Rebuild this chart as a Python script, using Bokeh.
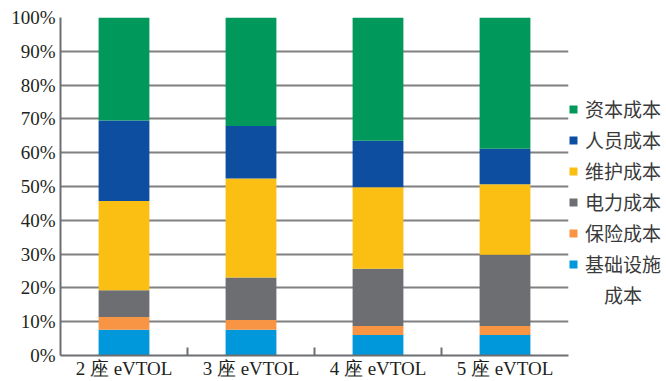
from bokeh.plotting import figure
from bokeh.models import FixedTicker, Legend, LegendItem, ColumnDataSource, Range1d
from bokeh.embed import file_html
from bokeh.resources import INLINE

categories = ["2 座 eVTOL", "3 座 eVTOL", "4 座 eVTOL", "5 座 eVTOL"]
infra = [7.6, 7.6, 6.1, 6.1]          # 基础设施成本
insurance = [3.8, 2.9, 2.6, 2.6]      # 保险成本
power = [7.9, 12.6, 17.0, 21.1]       # 电力成本
maintenance = [26.4, 29.3, 24.1, 20.9]  # 维护成本
personnel = [23.8, 15.5, 13.7, 10.5]  # 人员成本
capital = [30.5, 32.1, 36.5, 38.8]    # 资本成本

series_keys = ["infra", "insurance", "power", "maintenance", "personnel", "capital"]
series_labels = ["基础设施成本", "保险成本", "电力成本", "维护成本", "人员成本", "资本成本"]
colors = ["#0097DB", "#F79545", "#6D6E71", "#FBBE13", "#0D4EA1", "#00985B"]
y_ticks = [0, 10, 20, 30, 40, 50, 60, 70, 80, 90, 100]

xpos = [i + 0.5 for i in range(len(categories))]
source = ColumnDataSource(dict(x=xpos, infra=infra, insurance=insurance, power=power,
                               maintenance=maintenance, personnel=personnel, capital=capital))

p = figure(frame_width=508, height=381, output_backend="svg", toolbar_location=None,
           x_range=Range1d(0, len(categories)), y_range=Range1d(0, 100),
           min_border_left=60, min_border_right=0, min_border_top=17, min_border_bottom=10)
p.outline_line_color = None
p.background_fill_color = "white"
p.border_fill_color = "white"

renderers = p.vbar_stack(series_keys, x="x", width=0.40, color=colors, source=source, line_color=None)

# axes
serif = "Liberation Serif"
p.xaxis.ticker = FixedTicker(ticks=xpos, minor_ticks=[1, 2, 3])
p.xaxis.major_label_overrides = {x: c for x, c in zip(xpos, categories)}
p.xaxis.major_tick_in = 0
p.xaxis.major_tick_out = 0
p.xaxis.minor_tick_in = 8
p.xaxis.minor_tick_out = 0
p.xaxis.minor_tick_line_color = "#6D6E71"
p.xaxis.minor_tick_line_width = 2
p.xaxis.axis_line_color = "#6D6E71"
p.xaxis.axis_line_width = 2
p.xaxis.major_label_text_font = serif
p.xaxis.major_label_text_font_size = "19px"
p.xaxis.major_label_text_color = "#231F20"
p.xaxis.major_label_standoff = 2

p.yaxis.ticker = FixedTicker(ticks=y_ticks, minor_ticks=[])
p.yaxis.major_label_overrides = {t: f"{t}%" for t in y_ticks}
p.yaxis.major_tick_in = 0
p.yaxis.major_tick_out = 0
p.yaxis.axis_line_color = "#6D6E71"
p.yaxis.axis_line_width = 2
p.yaxis.major_label_text_font = serif
p.yaxis.major_label_text_font_size = "19px"
p.yaxis.major_label_text_color = "#231F20"
p.yaxis.major_label_standoff = 5

p.xgrid.visible = False
p.ygrid.ticker = FixedTicker(ticks=y_ticks)
p.ygrid.grid_line_color = "#808080"
p.ygrid.grid_line_width = 2

# legend
dummy = p.vbar(x=[], top=[], width=0.1, fill_alpha=0, line_alpha=0)
items = [LegendItem(label=lab, renderers=[r]) for lab, r in zip(series_labels, renderers)][::-1]
items[-1] = LegendItem(label="基础设施", renderers=[renderers[0]])
items.append(LegendItem(label="\u3000成本", renderers=[dummy]))
items.insert(0, LegendItem(label="\u3000", renderers=[dummy]))
legend = Legend(items=items, location="center_left", padding=0, margin=0,
                glyph_width=10, glyph_height=10, label_standoff=7, spacing=4,
                label_height=20, label_text_font="Noto Sans CJK SC",
                label_text_font_size="19px", label_text_color="#3A3A3A",
                border_line_color=None, background_fill_alpha=0)
p.add_layout(legend, "right")

open("out.html", "w").write(file_html(p, INLINE))
